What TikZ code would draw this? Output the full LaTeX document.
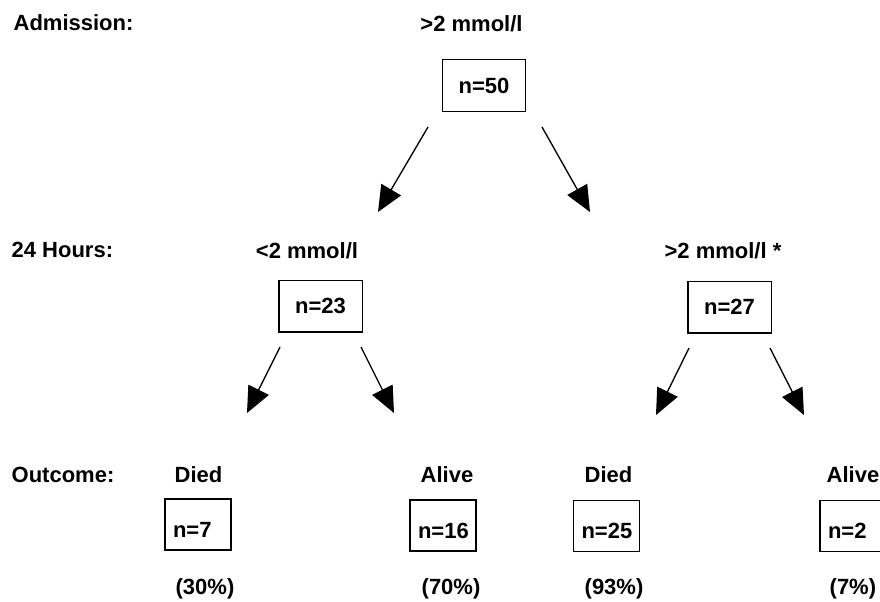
\documentclass[tikz,border=0pt]{standalone}
\usepackage{fontspec}
\setmainfont{Liberation Sans}
\usetikzlibrary{arrows.meta}

\tikzset{every picture/.style={line width=1pt}}
\tikzset{
  nbox/.style={draw, minimum width=62.5pt, minimum height=38.75pt, inner sep=0.75pt},
  obox/.style={draw, minimum width=49.5pt, minimum height=38.25pt, text width=37.5pt, inner xsep=6pt, inner ysep=0.75pt, align=left, text height=18.75pt, text depth=0pt},
  branch/.style={-{Triangle[length=19.5pt,width=17pt]}}
}

\begin{document}
\begin{tikzpicture}[x=0.75pt,y=0.75pt,yscale=-1,xscale=1,font=\fontsize{16.5}{20}\selectfont\bfseries]
			\useasboundingbox (0,0) rectangle (880,601); %set diagram to the size of the reference
			
			% Text Node
			\draw (12,30.5) node [anchor=base west][inner sep=0.75pt] (adm) {Admission:};
			% Text Node
			\draw (10,257) node [anchor=base west][inner sep=0.75pt] (hrs) {24 Hours:};
			% Text Node
			\draw (10,482) node [anchor=base west][inner sep=0.75pt] (outc) {Outcome:};
			
			% Text Node
			\draw (471.5,31.5) node [anchor=base][inner sep=0.75pt] (lvl50) {>2 mmol/l};
			% Text Node
			\draw (307,258) node [anchor=base][inner sep=0.75pt] (lvl23) {<2 mmol/l};
			% Text Node
			\draw (723,258) node [anchor=base][inner sep=0.75pt] (lvl27) {>2 mmol/l *};
			
			%Shape: Rectangle
			\draw (484,85.5) node [nbox] (b50) {n=50};
			%Shape: Rectangle
			\draw (320.5,306) node [nbox] (b23) {n=23};
			%Shape: Rectangle
			\draw (729.5,307) node [nbox] (b27) {n=27};
			
			% Text Node
			\draw (173,482) node [anchor=base west][inner sep=0.75pt] (died7) {Died};
			% Text Node
			\draw (419,482) node [anchor=base west][inner sep=0.75pt] (alive16) {Alive};
			% Text Node
			\draw (583,482) node [anchor=base west][inner sep=0.75pt] (died25) {Died};
			% Text Node
			\draw (825,482) node [anchor=base west][inner sep=0.75pt] (alive2) {Alive};
			
			%Shape: Rectangle
			\draw (198,524.5) node [obox] (b7) {n=7};
			%Shape: Rectangle
			\draw (443,525.5) node [obox] (b16) {n=16};
			%Shape: Rectangle
			\draw (606.5,526) node [obox] (b25) {n=25};
			%Shape: Rectangle
			\draw (853,526) node [obox] (b2) {n=2};
			
			% Text Node
			\draw (174,594) node [anchor=base west][inner sep=0.75pt] (pc30) {(30\%)};
			% Text Node
			\draw (420,594) node [anchor=base west][inner sep=0.75pt] (pc70) {(70\%)};
			% Text Node
			\draw (583,594) node [anchor=base west][inner sep=0.75pt] (pc93) {(93\%)};
			% Text Node
			\draw (828,594) node [anchor=base west][inner sep=0.75pt] (pc7) {(7\%)};
			
			% arrow ends
			\coordinate (s50l) at (428,127);
			\coordinate (e50l) at (378,212);
			\coordinate (s50r) at (542,127);
			\coordinate (e50r) at (590,212);
			\coordinate (s23l) at (280,347);
			\coordinate (e23l) at (247,413);
			\coordinate (s23r) at (361,347);
			\coordinate (e23r) at (394,413);
			\coordinate (s27l) at (689,348);
			\coordinate (e27l) at (656,415);
			\coordinate (s27r) at (770,348);
			\coordinate (e27r) at (804,415);
			
			%Straight Lines
			\draw [branch] (s50l) -- (e50l) ;
			%Straight Lines
			\draw [branch] (s50r) -- (e50r) ;
			%Straight Lines
			\draw [branch] (s23l) -- (e23l) ;
			%Straight Lines
			\draw [branch] (s23r) -- (e23r) ;
			%Straight Lines
			\draw [branch] (s27l) -- (e27l) ;
			%Straight Lines
			\draw [branch] (s27r) -- (e27r) ;
			
		\end{tikzpicture}
\end{document}
